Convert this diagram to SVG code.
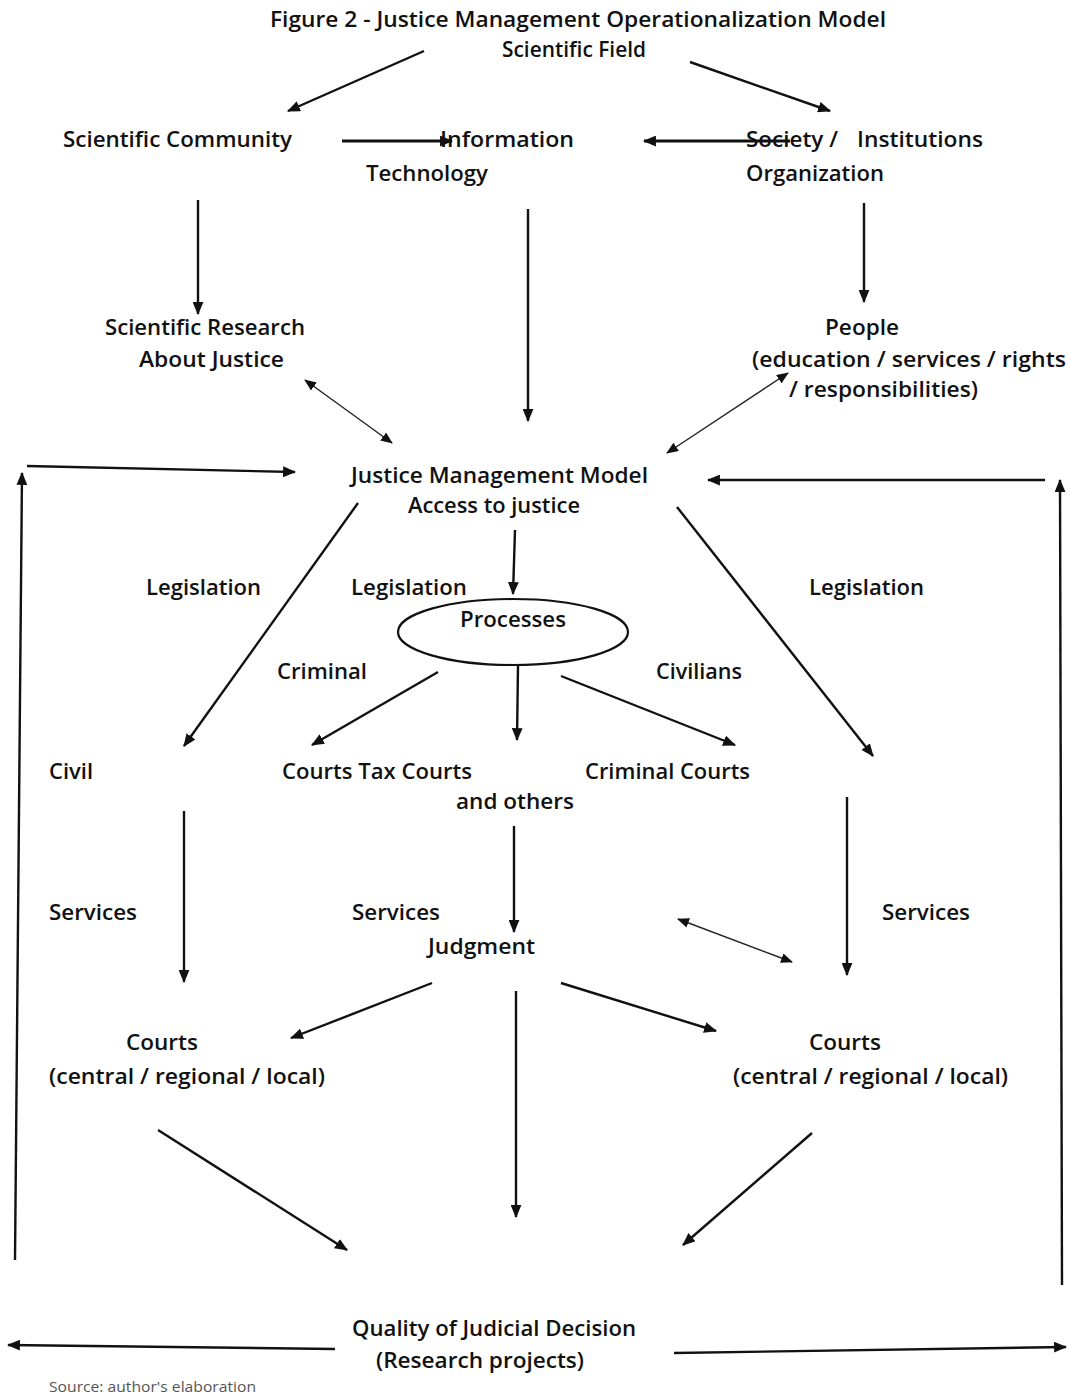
<svg xmlns="http://www.w3.org/2000/svg" width="1070" height="1396" viewBox="0 0 1070 1396">
<style>
text{font-family:"Open Sans","Liberation Sans",sans-serif;font-size:21px;font-weight:600;fill:#111}
.src{font-size:14px;font-weight:400;fill:#555}
.a{stroke:#111;stroke-width:2.4;fill:none;marker-end:url(#ah)}
.t{stroke-width:3.2}
.d{stroke:#222;stroke-width:1.4;fill:none;marker-end:url(#sh);marker-start:url(#sh)}
</style>
<defs>
<marker id="ah" viewBox="0 0 12 10" refX="11" refY="5" markerWidth="13" markerHeight="11" markerUnits="userSpaceOnUse" orient="auto"><path d="M0,0 L12,5 L0,10 z" fill="#111"/></marker>
<marker id="sh" viewBox="0 0 12 10" refX="11" refY="5" markerWidth="12" markerHeight="10" markerUnits="userSpaceOnUse" orient="auto-start-reverse"><path d="M0,0 L12,5 L0,10 z" fill="#111"/></marker>
</defs>
<rect width="1070" height="1396" fill="#fff"/>
<g id="title"><text x="270" y="27" textLength="616" lengthAdjust="spacingAndGlyphs">Figure 2 - Justice Management Operationalization Model</text></g>
<g id="scientific-field"><text x="502" y="57" textLength="144" lengthAdjust="spacingAndGlyphs">Scientific Field</text></g>
<g id="scientific-community"><text x="63" y="147" textLength="229" lengthAdjust="spacingAndGlyphs">Scientific Community</text></g>
<g id="information-technology"><text x="440" y="147" textLength="134" lengthAdjust="spacingAndGlyphs">Information</text><text x="366" y="181" textLength="122" lengthAdjust="spacingAndGlyphs">Technology</text></g>
<g id="society"><text x="746" y="147" textLength="92" lengthAdjust="spacingAndGlyphs">Society /</text><text x="857" y="147" textLength="126" lengthAdjust="spacingAndGlyphs">Institutions</text><text x="746" y="181" textLength="138" lengthAdjust="spacingAndGlyphs">Organization</text></g>
<g id="scientific-research"><text x="105" y="335" textLength="200" lengthAdjust="spacingAndGlyphs">Scientific Research</text><text x="139" y="367" textLength="145" lengthAdjust="spacingAndGlyphs">About Justice</text></g>
<g id="people"><text x="825" y="335" textLength="74" lengthAdjust="spacingAndGlyphs">People</text><text x="752" y="367" textLength="314" lengthAdjust="spacingAndGlyphs">(education / services / rights</text><text x="789" y="397" textLength="189" lengthAdjust="spacingAndGlyphs">/ responsibilities)</text></g>
<g id="justice-management-model"><text x="351" y="483" textLength="297" lengthAdjust="spacingAndGlyphs">Justice Management Model</text><text x="408" y="513" textLength="172" lengthAdjust="spacingAndGlyphs">Access to justice</text></g>
<g id="processes"><ellipse cx="513" cy="632" rx="115" ry="33" fill="none" stroke="#111" stroke-width="2.2"/><text x="460" y="627" textLength="106" lengthAdjust="spacingAndGlyphs">Processes</text></g>
<g id="civil"><text x="49" y="779" textLength="44" lengthAdjust="spacingAndGlyphs">Civil</text></g>
<g id="courts-tax"><text x="282" y="779" textLength="190" lengthAdjust="spacingAndGlyphs">Courts Tax Courts</text><text x="456" y="809" textLength="118" lengthAdjust="spacingAndGlyphs">and others</text></g>
<g id="criminal-courts"><text x="585" y="779" textLength="165" lengthAdjust="spacingAndGlyphs">Criminal Courts</text></g>
<g id="judgment"><text x="428" y="954" textLength="107" lengthAdjust="spacingAndGlyphs">Judgment</text></g>
<g id="courts-left"><text x="126" y="1050" textLength="72" lengthAdjust="spacingAndGlyphs">Courts</text><text x="49" y="1084" textLength="276" lengthAdjust="spacingAndGlyphs">(central / regional / local)</text></g>
<g id="courts-right"><text x="809" y="1050" textLength="72" lengthAdjust="spacingAndGlyphs">Courts</text><text x="733" y="1084" textLength="275" lengthAdjust="spacingAndGlyphs">(central / regional / local)</text></g>
<g id="quality"><text x="352" y="1336" textLength="284" lengthAdjust="spacingAndGlyphs">Quality of Judicial Decision</text><text x="376" y="1368" textLength="208" lengthAdjust="spacingAndGlyphs">(Research projects)</text></g>
<g id="labels">
<text x="146" y="595" textLength="115" lengthAdjust="spacingAndGlyphs">Legislation</text>
<text x="351" y="595" textLength="116" lengthAdjust="spacingAndGlyphs">Legislation</text>
<text x="809" y="595" textLength="115" lengthAdjust="spacingAndGlyphs">Legislation</text>
<text x="277" y="679" textLength="90" lengthAdjust="spacingAndGlyphs">Criminal</text>
<text x="656" y="679" textLength="86" lengthAdjust="spacingAndGlyphs">Civilians</text>
<text x="49" y="920" textLength="88" lengthAdjust="spacingAndGlyphs">Services</text>
<text x="352" y="920" textLength="88" lengthAdjust="spacingAndGlyphs">Services</text>
<text x="882" y="920" textLength="88" lengthAdjust="spacingAndGlyphs">Services</text>
<text class="src" x="49" y="1392" textLength="207" lengthAdjust="spacingAndGlyphs">Source: author's elaboration</text>
</g>
<g id="connectors">
<line class="a" x1="424" y1="51" x2="288" y2="111"/>
<line class="a" x1="690" y1="62" x2="830" y2="111"/>
<line class="a t" x1="342" y1="141" x2="452" y2="141"/>
<line class="a t" x1="790" y1="141" x2="644" y2="141"/>
<line class="a" x1="198" y1="200" x2="198" y2="314"/>
<line class="a" x1="528" y1="209" x2="528" y2="421"/>
<line class="a" x1="864" y1="203" x2="864" y2="302"/>
<line class="d" x1="305" y1="380" x2="392" y2="443"/>
<line class="d" x1="788" y1="373" x2="667" y2="453"/>
<line class="a" x1="15" y1="1260" x2="22" y2="473"/>
<line class="a" x1="27" y1="466" x2="295" y2="472"/>
<line class="a" x1="1062" y1="1285" x2="1060" y2="480"/>
<line class="a" x1="1045" y1="480" x2="708" y2="480"/>
<line class="a" x1="358" y1="503" x2="184" y2="746"/>
<line class="a" x1="515" y1="530" x2="513" y2="594"/>
<line class="a" x1="677" y1="507" x2="873" y2="756"/>
<line class="a" x1="438" y1="672" x2="312" y2="745"/>
<line class="a" x1="518" y1="666" x2="517" y2="740"/>
<line class="a" x1="561" y1="676" x2="735" y2="745"/>
<line class="a" x1="184" y1="811" x2="184" y2="982"/>
<line class="a" x1="514" y1="826" x2="514" y2="932"/>
<line class="a" x1="847" y1="797" x2="847" y2="975"/>
<line class="d" x1="678" y1="919" x2="792" y2="962"/>
<line class="a" x1="432" y1="983" x2="291" y2="1038"/>
<line class="a" x1="561" y1="983" x2="716" y2="1031"/>
<line class="a" x1="516" y1="991" x2="516" y2="1217"/>
<line class="a" x1="158" y1="1130" x2="347" y2="1250"/>
<line class="a" x1="812" y1="1133" x2="683" y2="1245"/>
<line class="a" x1="335" y1="1349" x2="8" y2="1345"/>
<line class="a" x1="674" y1="1353" x2="1066" y2="1347"/>
</g>
</svg>
